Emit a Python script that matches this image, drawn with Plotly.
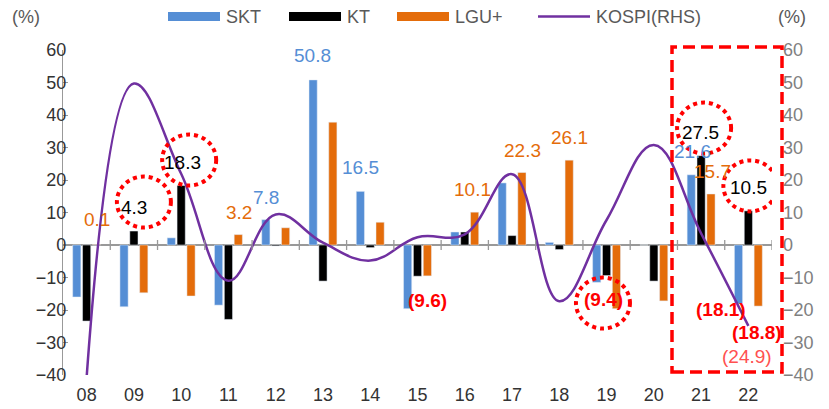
import plotly.graph_objects as go

years = ["08", "09", "10", "11", "12", "13", "14", "15", "16", "17", "18", "19", "20", "21", "22"]
skt = [-16.0, -19.0, 2.2, -18.5, 7.8, 50.8, 16.5, -19.6, 4.0, 19.1, 0.8, -11.5, 0.0, 21.6, -18.1]
kt = [-23.4, 4.3, 18.3, -22.9, -0.3, -11.1, -0.8, -9.6, 4.0, 2.9, -1.4, -9.4, -11.1, 27.5, 10.5]
lgu = [0.1, -14.7, -15.7, 3.2, 5.3, 37.8, 7.0, -9.5, 10.1, 22.3, 26.1, -19.6, -17.2, 15.7, -18.8]
kospi = [-40.7, 49.7, 21.9, -11.0, 9.4, 0.7, -4.8, 2.4, 3.3, 21.8, -17.3, 7.7, 30.8, 3.6, -24.9]

BLUE = "#558ED5"
BLACK = "#000000"
ORANGE = "#E46C0A"
PURPLE = "#7030A0"
RED = "#FF0000"
FONT = "Liberation Sans, Arial, sans-serif"

OFF = 8  # default page body margin
W, H = 829 - OFF, 409 - OFF
# plot area in page pixels
L, R, T, B = 63, 772, 50, 375


def px_x(x):
    return (x - L) / (R - L)


def px_y(y):
    return (B - y) / (B - T)


series = {"skt": (skt, BLUE), "kt": (kt, BLACK), "lgu": (lgu, ORANGE)}

fig = go.Figure()
fig.add_trace(go.Bar(x=years, y=skt, name="SKT", marker_color=BLUE, showlegend=False))
fig.add_trace(go.Bar(x=years, y=kt, name="KT", marker_color=BLACK, showlegend=False))
fig.add_trace(go.Bar(x=years, y=lgu, name="LGU+", marker_color=ORANGE, showlegend=False))
fig.add_trace(
    go.Scatter(
        x=years, y=kospi, name="KOSPI(RHS)", yaxis="y2", mode="lines",
        line=dict(color=PURPLE, width=2.5, shape="spline", smoothing=1.15), showlegend=False,
    )
)


def fmt(v):
    return f"({abs(v):.1f})" if v < 0 else f"{v:.1f}"


# data labels: (year index, series, xshift, yshift, style)
labels = [
    (0, "lgu", 10, 25, "n"),
    (1, "kt", 0, 24, "n"),
    (2, "kt", 1, 23.5, "n"),
    (3, "lgu", 10.5, 22.6, "n"),
    (4, "skt", -10, 22.6, "n"),
    (5, "skt", -10, 24, "n"),
    (6, "skt", -10, 23.4, "n"),
    (7, "kt", 9.5, -24, "r"),
    (8, "lgu", 8, 23, "n"),
    (9, "lgu", 10, 22.5, "n"),
    (10, "lgu", 10, 23, "n"),
    (11, "kt", -2.6, -23.5, "r"),
    (13, "skt", -9, 23, "n"),
    (13, "kt", -1, 23.6, "n"),
    (13, "lgu", 11, 22, "n"),
    (14, "kt", 0, 23, "n"),
    (14, "skt", -27, -6, "r"),
    (14, "lgu", 9, -26, "r"),
]

annotations = []
for i, key, xs, ys, style in labels:
    vals, col = series[key]
    v = vals[i]
    if style == "r":
        text, color = f"<b>{fmt(v)}</b>", RED
    else:
        text, color = fmt(v), col
    annotations.append(dict(
        x=i, y=v, xref="x", yref="y", text=text, showarrow=False,
        xshift=xs, yshift=ys, font=dict(size=19, color=color, family=FONT),
    ))

annotations.append(dict(
    x=14, y=kospi[14], xref="x", yref="y2", text=fmt(kospi[14]), showarrow=False,
    xshift=-1, yshift=-31, font=dict(size=19, color="#FF5050", family=FONT),
))

# red dotted circles around highlighted labels: (year index, series, label shift, circle offset)
circles = [
    (1, "kt", 0, 24, 10, 5),
    (2, "kt", 1, 23.5, 7, 2),
    (11, "kt", -2.6, -23.5, -1, -4),
    (13, "kt", -1, 23.6, 4, 4),
    (14, "kt", 0, 23, 2, 2),
]
shapes = []
rx, ry = 27, 25.5
for i, key, xs, ys, dx, dy in circles:
    v = series[key][0][i]
    cx, cy = xs + dx, ys + dy
    shapes.append(dict(
        type="circle", xref="x", yref="y", xsizemode="pixel", ysizemode="pixel",
        xanchor=i, yanchor=v, x0=cx - rx, x1=cx + rx, y0=cy - ry, y1=cy + ry,
        line=dict(color=RED, width=4, dash="dot"),
    ))

# tick marks on the zero line between categories
for k in range(1, len(years) + 1):
    shapes.append(dict(
        type="line", xref="x", yref="y", ysizemode="pixel", yanchor=0,
        x0=k - 0.5, x1=k - 0.5, y0=-5, y1=5, line=dict(color="#999999", width=1.3),
    ))

# dashed highlight box around 21-22
shapes.append(dict(
    type="rect", xref="paper", yref="paper",
    x0=px_x(672), x1=px_x(782), y0=px_y(372), y1=px_y(47),
    line=dict(color=RED, width=3.5, dash="12px,6px"),
))

# manual legend
legend_items = [
    ("SKT", BLUE, "bar", 168),
    ("KT", BLACK, "bar", 289),
    ("LGU+", ORANGE, "bar", 397),
    ("KOSPI(RHS)", PURPLE, "line", 538),
]
for name, col, kind, x0 in legend_items:
    if kind == "bar":
        shapes.append(dict(
            type="rect", xref="paper", yref="paper", x0=px_x(x0), x1=px_x(x0 + 52),
            y0=px_y(21), y1=px_y(12), fillcolor=col, line=dict(width=0),
        ))
    else:
        shapes.append(dict(
            type="line", xref="paper", yref="paper", x0=px_x(x0), x1=px_x(x0 + 52),
            y0=px_y(16.5), y1=px_y(16.5), line=dict(color=col, width=2.5),
        ))
    annotations.append(dict(
        x=px_x(x0 + 56), y=px_y(17), xref="paper", yref="paper", text=name, showarrow=False,
        xanchor="left", yanchor="middle", font=dict(size=18, color="#595959", family=FONT),
    ))

for x in (26, 792):
    annotations.append(dict(
        x=px_x(x), y=px_y(17), xref="paper", yref="paper", text="(%)", showarrow=False,
        xanchor="center", yanchor="middle", font=dict(size=18, color="#595959", family=FONT),
    ))

fig.update_layout(
    width=W,
    height=H,
    margin=dict(l=L - OFF, r=W - (R - OFF), t=T - OFF, b=H - (B - OFF)),
    paper_bgcolor="white",
    plot_bgcolor="white",
    barmode="group",
    bargap=0.374,
    bargroupgap=0.17,
    font=dict(family=FONT, size=18, color="#333333"),
    showlegend=False,
    xaxis=dict(
        type="category", range=[-0.5, len(years) - 0.5], autorange=False, automargin=False,
        showline=False, showgrid=False, zeroline=False, ticks="",
        tickfont=dict(size=18, color="#333333"), ticklabelstandoff=7,
    ),
    yaxis=dict(
        range=[-40, 60], dtick=10, showgrid=False, showline=True, linecolor="#999999", linewidth=1.3,
        ticks="inside", ticklen=5, tickcolor="#999999", zeroline=True, zerolinecolor="#999999",
        zerolinewidth=1.5, tickfont=dict(size=18, color="#333333"), ticklabelstandoff=-8,
        automargin=False,
    ),
    yaxis2=dict(
        range=[-40, 60], dtick=10, overlaying="y", side="right", showgrid=False, showline=False,
        zeroline=False, ticks="", tickfont=dict(size=18, color="#808080"), ticklabelstandoff=10,
        automargin=False,
    ),
    shapes=shapes,
    annotations=annotations,
)

fig.write_html("out.html")
